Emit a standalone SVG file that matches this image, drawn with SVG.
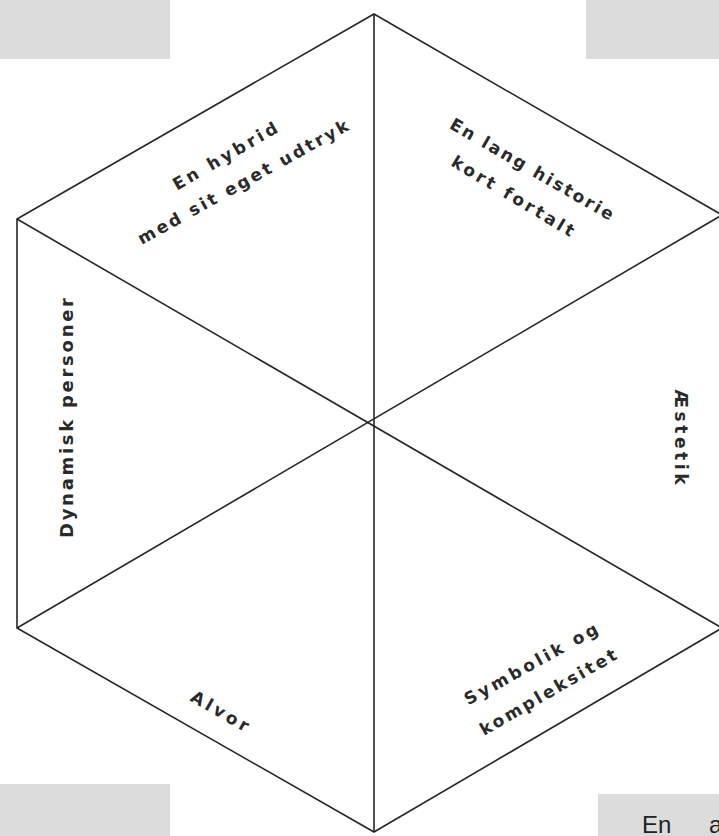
<svg xmlns="http://www.w3.org/2000/svg" width="719" height="836" viewBox="0 0 719 836">
<style>
.box{fill:#dcdcdc}
.ln{stroke:#262626;stroke-width:1.6;fill:none}
.lb{font-family:"DejaVu Sans",Verdana,sans-serif;font-weight:700;font-size:17px;fill:#2a2a2a;text-anchor:middle}
.bt{font-family:"Liberation Sans",Arial,sans-serif;font-size:24px;fill:#222}
</style>
<rect width="719" height="836" fill="#ffffff"/>
<g id="boxes">
<rect class="box" x="0" y="0" width="170" height="59"/>
<rect class="box" x="586" y="0" width="133" height="59"/>
<rect class="box" x="0" y="784" width="170" height="52"/>
<rect class="box" x="598" y="794" width="121" height="42"/>
<text class="bt" x="642" y="833">En<tspan x="709">a</tspan></text>
</g>
<g id="connectors">
<polygon class="ln" points="374,14 722,215 722,628 374,832 17,628 17,219"/>
<line class="ln" x1="374" y1="14" x2="374" y2="832"/>
<line class="ln" x1="17" y1="219" x2="722" y2="628"/>
<line class="ln" x1="17" y1="628" x2="722" y2="215"/>
</g>
<g id="n1"><text class="lb" transform="translate(225,156) rotate(-30)" y="6" textLength="118" lengthAdjust="spacing">En hybrid</text></g>
<g id="n2"><text class="lb" transform="translate(243,182) rotate(-29)" y="6" textLength="238" lengthAdjust="spacing">med sit eget udtryk</text></g>
<g id="n3"><text class="lb" transform="translate(532,169) rotate(30)" y="6" textLength="186" lengthAdjust="spacing">En lang historie</text></g>
<g id="n4"><text class="lb" transform="translate(513,196) rotate(31)" y="6" textLength="140" lengthAdjust="spacing">kort fortalt</text></g>
<g id="n5"><text class="lb" transform="translate(66,418) rotate(-90)" y="7" textLength="240" lengthAdjust="spacing" style="font-size:18px">Dynamisk personer</text></g>
<g id="n6"><text class="lb" transform="translate(681,437) rotate(90)" y="6" textLength="95" lengthAdjust="spacing">Æstetik</text></g>
<g id="n7"><text class="lb" transform="translate(531,664) rotate(-29)" y="6" textLength="150" lengthAdjust="spacing">Symbolik og</text></g>
<g id="n8"><text class="lb" transform="translate(548,692) rotate(-30)" y="6" textLength="155" lengthAdjust="spacing">kompleksitet</text></g>
<g id="n9"><text class="lb" transform="translate(220,711) rotate(30)" y="6" textLength="64" lengthAdjust="spacing">Alvor</text></g>
</svg>
